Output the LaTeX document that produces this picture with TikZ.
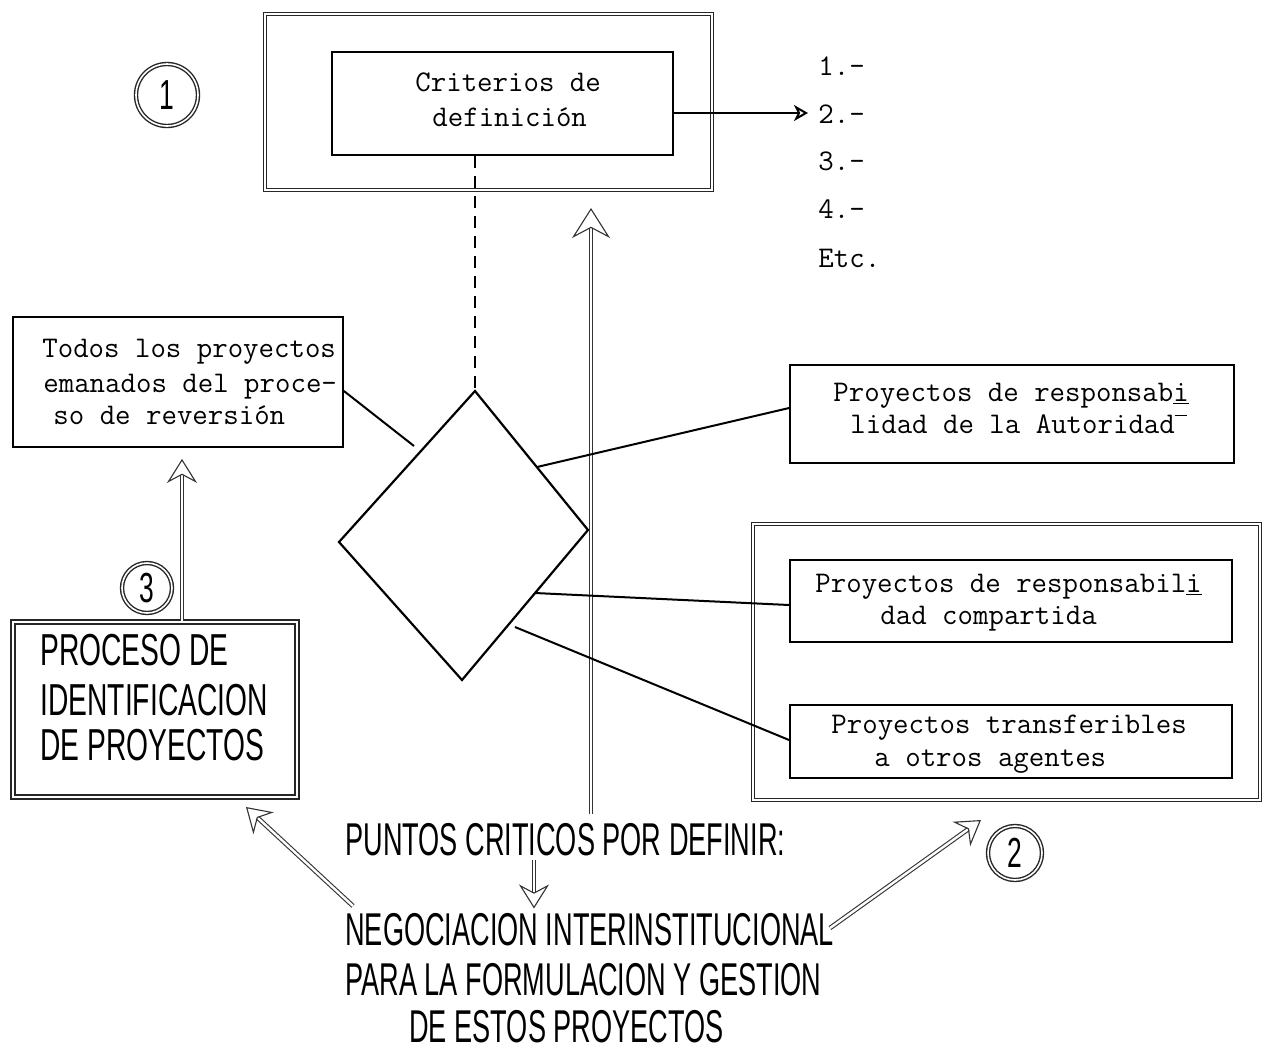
\documentclass[tikz,border=0pt]{standalone}
\usepackage{fontspec}
\newfontfamily\hand[FakeStretch=0.59]{Liberation Sans}
\newfontfamily\handB[FakeStretch=0.63]{Liberation Sans}
\usetikzlibrary{arrows.meta,fit,calc}
\begin{document}
\begin{tikzpicture}[x=0.5pt,y=-0.5pt,
  box/.style={draw=black, line width=0.9pt, inner sep=0pt},
  heavybox/.style={draw=black!85, double=white, double distance=0.9pt, line width=0.75pt, inner sep=0pt},
  tw/.style={font=\fontsize{15}{16.5}\selectfont\ttfamily, inner sep=0pt, anchor=base west},
  hw/.style={font=\fontsize{23}{25}\selectfont\hand, inner sep=0pt, anchor=base west},
  hwbig/.style={font=\fontsize{22.4}{25}\selectfont\handB, inner sep=0pt, anchor=base west},
  ring/.style={circle, draw=black!85, double=white, double distance=0.8pt, line width=0.7pt, inner sep=0pt, font=\fontsize{21}{21}\selectfont\handB},
  conn/.style={draw=black, line width=1pt},
  diam/.style={draw=black, line width=1.1pt, line join=miter},
  dashedline/.style={draw=black, line width=0.8pt, dash pattern=on 6pt off 4pt},
  dblarrow/.style={draw=black!80, double=white, double distance=1.2pt, line width=0.55pt, -{Stealth[open,length=12pt,width=15pt,inset=4pt]}},
  bigarrow/.style={draw=black!80, double=white, double distance=1.2pt, line width=0.55pt, -{Stealth[open,length=15pt,width=19pt,inset=5pt]}},
  thinarrow/.style={draw=black, line width=1pt, -{Stealth[open,length=7pt,width=8pt,inset=2pt]}}
]
\useasboundingbox (0,0) rectangle (1271,1062);
\fill[white] (0,0) rectangle (1271,1062);

% ---- boxes ----
\node[heavybox, fit={(265,14) (712,190)}] (outer1) {};
\node[box, fit={(332,52) (673,155)}] (crit) {};
\node[box, fit={(13,317) (343,447)}] (todos) {};
\node[box, fit={(790,365) (1234,463)}] (auto) {};
\node[heavybox, fit={(753,524) (1260,800)}] (outer2) {};
\node[box, fit={(790,560) (1232,642)}] (comp) {};
\node[box, fit={(790,705) (1232,778)}] (trans) {};
\node[heavybox, line width=1pt, fit={(13,622) (297,797)}] (proc) {};

% ---- circled numbers ----
\node[ring, minimum size=31pt] (n1) at (167,95) {1};
\node[ring, minimum size=25pt] (n3) at (147,588) {3};
\node[ring, minimum size=27pt] (n2) at (1015,853) {2};

% ---- typewritten texts ----
\node[tw] (critA) at (415,91) {Criterios de};
\node[tw] (critB) at (432,126) {definición};

\node[tw] (l1) at (818,75) {1.-};
\node[tw] (l2) at (818,123) {2.-};
\node[tw] (l3) at (818,170) {3.-};
\node[tw] (l4) at (818,218) {4.-};
\node[tw] (l5) at (818,267) {Etc.};

\node[tw] (todA) at (42,357) {Todos los proyectos};
\node[tw] (todB) at (43,392) {emanados del proce-};
\node[tw] (todC) at (53,424) {so de reversión};

\node[tw] (autA) at (833,401) {Proyectos de responsab\underline{i}};
\node[tw] (autB) at (850,433) {lidad de la Autoridad\rlap{\raisebox{1.3ex}{\rule{6pt}{0.6pt}}}};

\node[tw] (comA) at (815,592) {Proyectos de responsabil\underline{i}};
\node[tw] (comB) at (880,624) {dad compartida};

\node[tw] (traA) at (831,733) {Proyectos transferibles};
\node[tw] (traB) at (874,766) {a otros agentes};

% ---- hand-lettered texts ----
\node[hwbig] (prA) at (40,665) {PROCESO DE};
\node[hwbig] (prB) at (40,715) {IDENTIFICACION};
\node[hwbig] (prC) at (40,760) {DE PROYECTOS};

\node[hw] (punt) at (345,855) {PUNTOS CRITICOS POR DEFINIR:};
\node[hw] (negA) at (345,945) {NEGOCIACION INTERINSTITUCIONAL};
\node[hw] (negB) at (345,995) {PARA LA FORMULACION Y GESTION};
\node[hw] (negC) at (409,1042) {DE ESTOS PROYECTOS};

% ---- diamond ----
\coordinate (dT) at (475,391);
\coordinate (dR) at (588,530);
\coordinate (dB) at (462,680);
\coordinate (dL) at (339,542);
\draw[diam] (dT) -- (dR) -- (dB) -- (dL) -- cycle;

% ---- connectors ----
\draw[dashedline] (crit.south -| dT) -- (dT);
\draw[thinarrow] (crit.east |- 0,113) -- (808,113);

\coordinate (vB) at (591,814);
\coordinate (vT) at (591,208);
\draw[bigarrow] (vB) -- (vT);

\coordinate (eTodos) at (414,446);
\coordinate (eAuto) at (537,467);
\coordinate (eComp) at (535,593);
\coordinate (eTrans) at (515,627);
\draw[conn] (todos.east |- 0,391) -- (eTodos);
\draw[conn] (eAuto) -- (auto.west |- 0,408);
\draw[conn] (eComp) -- (comp.west |- 0,605);
\draw[conn] (eTrans) -- (trans.west |- 0,740);

\draw[dblarrow] (proc.north -| 182,0) -- ([yshift=-5.5pt]todos.south -| 182,0);

\coordinate (tailL) at (353,906);
\coordinate (tipL) at (246,807);
\draw[dblarrow] (tailL) -- (tipL);
\coordinate (tailR) at (830,928);
\coordinate (tipR) at (981,820);
\draw[dblarrow] (tailR) -- (tipR);
\draw[dblarrow, shorten <=2pt, shorten >=2pt] (punt.south -| 534,0) -- (negA.north -| 534,0);
\end{tikzpicture}
\end{document}
